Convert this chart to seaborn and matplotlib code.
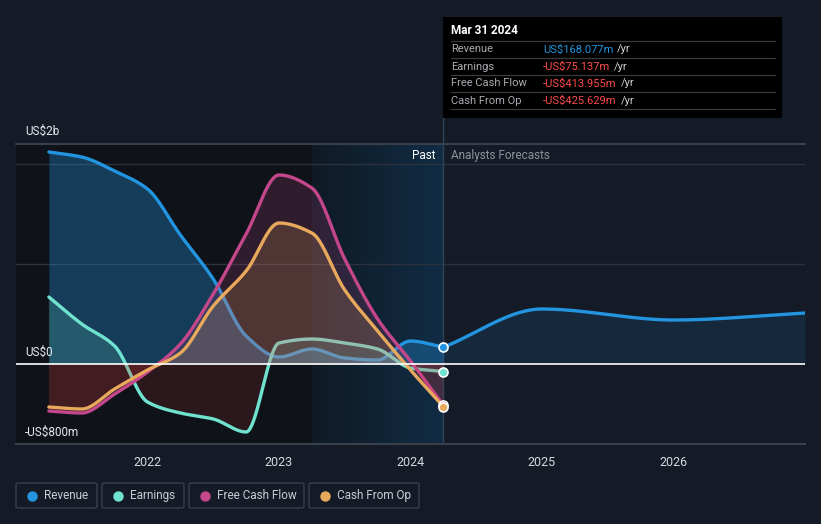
import numpy as np
import pandas as pd
import matplotlib
matplotlib.use("Agg")
import matplotlib.pyplot as plt
import seaborn as sns
from matplotlib.patches import FancyBboxPatch, Rectangle

# ---------------- data (US$ billions) ----------------
past_dates = [2021.25, 2021.5, 2021.75, 2022.0, 2022.25, 2022.5, 2022.75,
              2023.0, 2023.25, 2023.5, 2023.75, 2024.0, 2024.25]
revenue = [2.12, 2.07, 1.93, 1.75, 1.29, 0.85, 0.28, 0.07, 0.15, 0.06, 0.04, 0.23, 0.168]
earnings = [0.67, 0.40, 0.18, -0.38, -0.49, -0.55, -0.68, 0.21, 0.25, 0.21, 0.15, -0.04, -0.075]
free_cash_flow = [-0.47, -0.49, -0.30, -0.08, 0.20, 0.70, 1.30, 1.89, 1.76, 1.05, 0.45, 0.03, -0.414]
cash_from_op = [-0.43, -0.45, -0.25, -0.06, 0.11, 0.58, 0.93, 1.41, 1.31, 0.74, 0.33, -0.06, -0.426]

fc_dates = [2024.25, 2025.0, 2026.0, 2027.0]
revenue_fc = [0.168, 0.55, 0.44, 0.51]

x_ticks = [2022, 2023, 2024, 2025, 2026]
series_names = ["Revenue", "Earnings", "Free Cash Flow", "Cash From Op"]
colors = {"Revenue": "#2394df", "Earnings": "#6fe3d0",
          "Free Cash Flow": "#c4478b", "Cash From Op": "#e8a95c"}

tooltip_date = "Mar 31 2024"
tooltip_rows = [("Revenue", "US$168.077m", "#2394df"),
                ("Earnings", "-US$75.137m", "#ff4b4b"),
                ("Free Cash Flow", "-US$413.955m", "#ff4b4b"),
                ("Cash From Op", "-US$425.629m", "#ff4b4b")]


def pchip(x, y, n=40):
    x = np.asarray(x, float); y = np.asarray(y, float)
    h = np.diff(x); d = np.diff(y) / h
    m = np.zeros_like(y)
    for k in range(1, len(x) - 1):
        if d[k - 1] * d[k] > 0:
            w1 = 2 * h[k] + h[k - 1]; w2 = h[k] + 2 * h[k - 1]
            m[k] = (w1 + w2) / (w1 / d[k - 1] + w2 / d[k])
    m[0] = d[0]; m[-1] = d[-1]
    xs, ys = [], []
    for k in range(len(x) - 1):
        t = np.linspace(0, 1, n, endpoint=(k == len(x) - 2))
        h00 = 2 * t**3 - 3 * t**2 + 1; h10 = t**3 - 2 * t**2 + t
        h01 = -2 * t**3 + 3 * t**2; h11 = t**3 - t**2
        xs.append(x[k] + t * h[k])
        ys.append(h00 * y[k] + h10 * h[k] * m[k] + h01 * y[k + 1] + h11 * h[k] * m[k + 1])
    return np.concatenate(xs), np.concatenate(ys)


BG = "#151b26"
W, H = 821, 524
sns.set_theme(style="dark")
plt.rcParams['font.family'] = ['Roboto', 'DejaVu Sans']

fig = plt.figure(figsize=(W / 100, H / 100), dpi=100, facecolor=BG)
L, R, T, B = 16, 805, 144, 444
ax = fig.add_axes([L / W, 1 - B / H, (R - L) / W, (B - T) / H])
ax.set_facecolor(BG)
ax.set_xlim(2021.0, 2027.0)
ax.set_ylim(-0.8, 2.2)

# background regions
ax.axvspan(2021.0, 2023.25, color="#0f1319", zorder=0, lw=0)
grad = np.linspace(0, 1, 256).reshape(1, -1)
from matplotlib.colors import LinearSegmentedColormap
cmap = LinearSegmentedColormap.from_list("hl", ["#0f1a25", "#112c44"])
ax.imshow(grad, extent=[2023.25, 2024.25, -0.8, 2.2], aspect="auto", cmap=cmap, zorder=0.5)
ax.set_xlim(2021.0, 2027.0)
ax.set_ylim(-0.8, 2.2)

# gridlines
for g in [1.0, 2.0]:
    ax.axhline(g, color="#2c323d", lw=1, zorder=1)

# build long frame of smoothed curves
rows = []
for name, vals in zip(series_names, [revenue, earnings, free_cash_flow, cash_from_op]):
    xs, ys = pchip(past_dates, vals)
    rows.append(pd.DataFrame({"date": xs, "value": ys, "series": name}))
past_df = pd.concat(rows, ignore_index=True)
fx, fy = pchip(fc_dates, revenue_fc, n=80)
fc_df = pd.DataFrame({"date": fx, "value": fy, "series": "Revenue"})

# fills + lines, layered in series order
for i, name in enumerate(series_names):
    d = past_df[past_df.series == name]
    xv, yv = d.date.values, d.value.values
    c = colors[name]
    a = 0.32 if name == "Revenue" else 0.18
    z = 2 + 2 * i
    ax.fill_between(xv, 0, yv, where=yv >= 0, interpolate=True, color=c, alpha=a, lw=0, zorder=z)
    ax.fill_between(xv, 0, yv, where=yv < 0, interpolate=True, color="#e03a3a", alpha=0.13, lw=0, zorder=z)
    sns.lineplot(data=d, x="date", y="value", color=c, lw=2.4, legend=False, ax=ax,
                 sort=False, estimator=None, zorder=z + 1)

ax.fill_between(fc_df.date.values, 0, fc_df.value.values, color="#2394df", alpha=0.12, lw=0, zorder=2)
sns.lineplot(data=fc_df, x="date", y="value", color=colors["Revenue"], lw=2.4,
             legend=False, ax=ax, sort=False, estimator=None, zorder=3)

ax.axhline(0, color="white", lw=1.2, zorder=11)
ax.axvline(2024.25, color="#2e4358", lw=1, zorder=1.5)

# end markers
end_vals = [revenue[-1], earnings[-1], free_cash_flow[-1], cash_from_op[-1]]
for name, v in zip(series_names, end_vals):
    ax.scatter([past_dates[-1]], [v], s=42, color=colors[name], edgecolor="white", lw=1.2, zorder=12)

# axes styling
for s in ["left", "right", "top"]:
    ax.spines[s].set_visible(False)
ax.spines["bottom"].set_color("#3a404a")
ax.spines["bottom"].set_linewidth(1.5)
ax.axhline(2.2, color="#3a404a", lw=1.5, zorder=1, clip_on=False)
ax.set_xticks(x_ticks)
ax.set_xticklabels([str(t) for t in x_ticks])
ax.tick_params(axis="x", colors="#3a404a", length=4, width=1, labelcolor="#d5d8dd", labelsize=9, pad=5)
ax.set_yticks([])
ax.set_xlabel(""); ax.set_ylabel("")
ax.grid(False)


def px(x, y):
    return x / W, 1 - y / H


fig.text(*px(25, 131), "US$2b", color="#e6e8eb", fontsize=8.5, va="center", ha="left")
fig.text(*px(25, 352), "US$0", color="#e6e8eb", fontsize=8.5, va="center", ha="left")
fig.text(*px(25, 432), "-US$800m", color="#e6e8eb", fontsize=8.5, va="center", ha="left")

fig.text(*px(435, 156), "Past", color="#ffffff", fontsize=8.5, va="center", ha="right")
fig.text(*px(451, 156), "Analysts Forecasts", color="#8d929a", fontsize=8.5, va="center", ha="left")

fig.add_artist(plt.Line2D([443 / W, 443 / W], [1 - 144 / H, 1 - 118 / H], color="#2e4358", lw=1))

# tooltip
fig.add_artist(Rectangle((443 / W, 1 - 118 / H), (782 - 443) / W, (118 - 17) / H,
                         facecolor="black", edgecolor="none", transform=fig.transFigure))
fig.text(*px(451, 31), tooltip_date, color="white", fontsize=8.5, fontweight="bold", va="center")
for yy in [41, 58, 75, 92, 109]:
    fig.add_artist(plt.Line2D([451 / W, 775 / W], [1 - yy / H, 1 - yy / H], color="#3a3a3a", lw=0.9))
fig.canvas.draw()
for i, (lab, val, col) in enumerate(tooltip_rows):
    yy = 49.5 + 17 * i
    fig.text(*px(451, yy), lab, color="#a8abb0", fontsize=8, va="center")
    t = fig.text(*px(543, yy), val, color=col, fontsize=8, va="center")
    bb = t.get_window_extent(renderer=fig.canvas.get_renderer())
    fig.text(bb.x1 / W + 4 / W, 1 - yy / H, "/yr", color="#d0d3d8", fontsize=8, va="center")

# legend
legend_boxes = [(16, 97), (102, 184), (189, 304), (309, 419)]
for (x0, x1), name in zip(legend_boxes, series_names):
    fig.add_artist(FancyBboxPatch((x0 / W, 1 - 508 / H), (x1 - x0) / W, 25 / H,
                                  boxstyle="round,pad=0,rounding_size=0.003",
                                  facecolor="none", edgecolor="#3a404a", lw=1,
                                  transform=fig.transFigure))
    fig.add_artist(plt.Line2D([(x0 + 16) / W], [1 - 495.5 / H], marker="o", ms=6.5,
                              color=colors[name], lw=0))
    fig.text((x0 + 28) / W, 1 - 495.5 / H, name, color="#c8ccd2", fontsize=8.5, va="center")

fig.savefig("out.png", dpi=100, facecolor=BG)
